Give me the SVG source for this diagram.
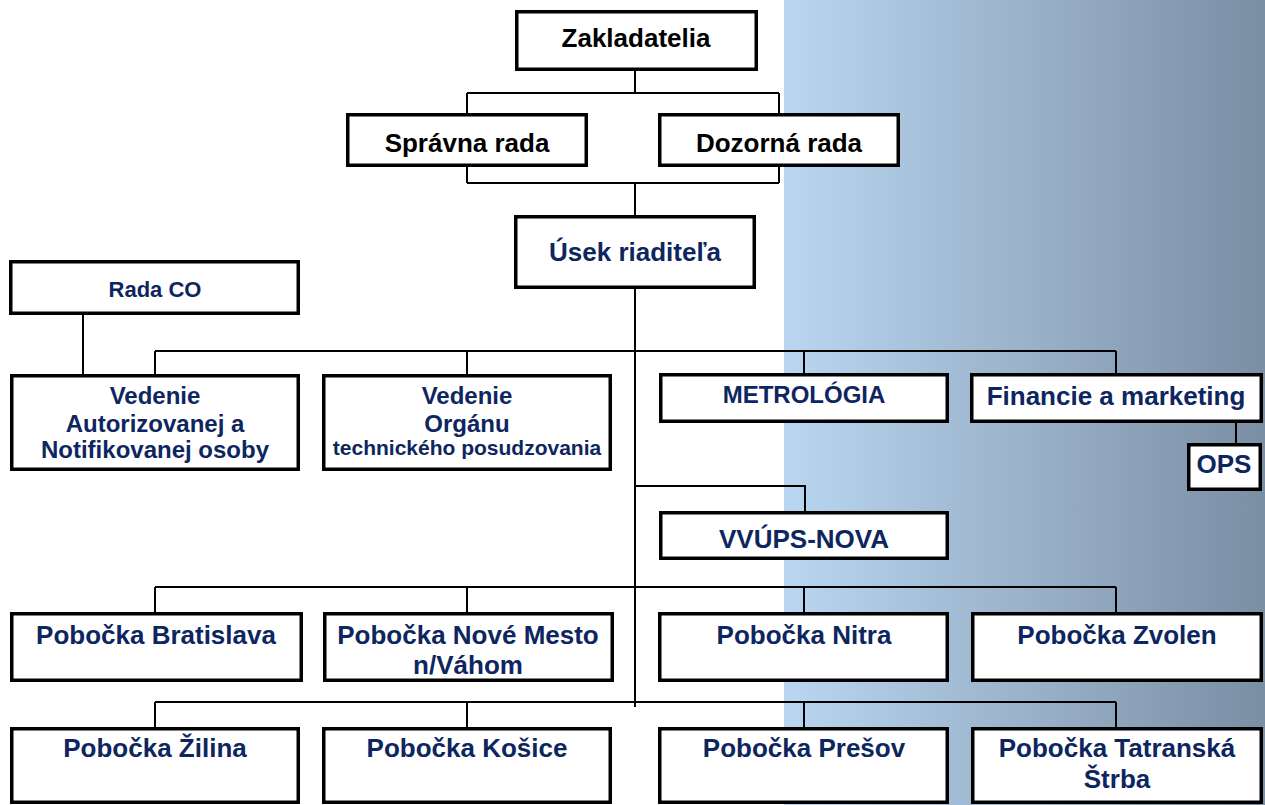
<svg xmlns="http://www.w3.org/2000/svg" width="1265" height="805" viewBox="0 0 1265 805">
<defs>
<linearGradient id="bg" x1="0" y1="0" x2="1" y2="0">
<stop offset="0" stop-color="#BAD6F0"/>
<stop offset="1" stop-color="#7A8EA4"/>
</linearGradient>
<style>
.box{fill:#fff;stroke:#000;stroke-width:3.5}
.t{font-family:"Liberation Sans",Arial,sans-serif;font-weight:bold;font-size:26px;text-anchor:middle;fill:#0E2660}
.k{fill:#000}
.s24{font-size:24px}
.s22{font-size:22px}
.s21{font-size:21px}
.c{fill:none;stroke:#000;stroke-width:2}
</style>
</defs>
<rect x="0" y="0" width="1265" height="805" fill="#fff"/>
<rect x="784" y="0" width="481" height="805" fill="url(#bg)"/>
<g id="connectors" class="c">
<path d="M635 71V93M467 93H779M467 93V113M779 93V113"/>
<path d="M467 167V183M779 167V183M467 183H779M635 183V215"/>
<path d="M635 289V707"/>
<path d="M83 315V374"/>
<path d="M155 351H1116M155 351V374M467 351V374M804 351V373M1116 351V373"/>
<path d="M1236 423V443"/>
<path d="M635 486H805V511"/>
<path d="M155 587H1116M155 587V612M467 587V612M804 587V612M1116 587V612"/>
<path d="M155 702H1116M155 702V727M467 702V727M804 702V727M1116 702V727"/>
</g>
<g id="zakladatelia"><rect class="box" x="516.75" y="11.75" width="239.5" height="57.5"/><text class="t k" x="636" y="47">Zakladatelia</text></g>
<g id="spravna-rada"><rect class="box" x="347.75" y="114.75" width="238.5" height="50.5"/><text class="t k" x="467" y="152">Správna rada</text></g>
<g id="dozorna-rada"><rect class="box" x="659.75" y="114.75" width="238.5" height="50.5"/><text class="t k" x="779" y="152">Dozorná rada</text></g>
<g id="usek-riaditela"><rect class="box" x="515.75" y="216.75" width="238.5" height="70.5"/><text class="t" x="635" y="261">Úsek riaditeľa</text></g>
<g id="rada-co"><rect class="box" x="10.75" y="261.75" width="287.5" height="51.5"/><text class="t s22" x="155" y="297">Rada CO</text></g>
<g id="vedenie-ano"><rect class="box" x="11.75" y="375.75" width="286.5" height="93.5"/><text class="t s24" x="155" y="404">Vedenie</text><text class="t s24" x="155" y="432">Autorizovanej a</text><text class="t s24" x="155" y="458">Notifikovanej osoby</text></g>
<g id="vedenie-otp"><rect class="box" x="323.75" y="375.75" width="286.5" height="93.5"/><text class="t s24" x="467" y="404">Vedenie</text><text class="t s24" x="467" y="432">Orgánu</text><text class="t s21" x="467" y="455">technického posudzovania</text></g>
<g id="metrologia"><rect class="box" x="660.75" y="374.75" width="286.5" height="46.5"/><text class="t s24" x="804" y="403">METROLÓGIA</text></g>
<g id="financie"><rect class="box" x="971.75" y="374.75" width="289.5" height="46.5"/><text class="t" x="1116" y="405">Financie a marketing</text></g>
<g id="ops"><rect class="box" x="1188.75" y="444.75" width="71.5" height="44.5"/><text class="t" x="1224" y="473">OPS</text></g>
<g id="vvups-nova"><rect class="box" x="660.75" y="512.75" width="286.5" height="45.5"/><text class="t" x="804" y="548">VVÚPS-NOVA</text></g>
<g id="bratislava"><rect class="box" x="11.75" y="613.75" width="289.5" height="66.5"/><text class="t" x="156" y="644">Pobočka Bratislava</text></g>
<g id="nove-mesto"><rect class="box" x="324.75" y="613.75" width="287.5" height="66.5"/><text class="t" x="468" y="644">Pobočka Nové Mesto</text><text class="t" x="468" y="674">n/Váhom</text></g>
<g id="nitra"><rect class="box" x="659.75" y="613.75" width="287.5" height="66.5"/><text class="t" x="804" y="644">Pobočka Nitra</text></g>
<g id="zvolen"><rect class="box" x="972.75" y="613.75" width="288.5" height="66.5"/><text class="t" x="1117" y="644">Pobočka Zvolen</text></g>
<g id="zilina"><rect class="box" x="11.75" y="728.75" width="286.5" height="73.5"/><text class="t" x="155" y="757">Pobočka Žilina</text></g>
<g id="kosice"><rect class="box" x="323.75" y="728.75" width="286.5" height="73.5"/><text class="t" x="467" y="757">Pobočka Košice</text></g>
<g id="presov"><rect class="box" x="659.75" y="728.75" width="287.5" height="73.5"/><text class="t" x="804" y="757">Pobočka Prešov</text></g>
<g id="tatranska-strba"><rect class="box" x="972.75" y="728.75" width="288.5" height="73.5"/><text class="t" x="1117" y="757">Pobočka Tatranská</text><text class="t" x="1117" y="788">Štrba</text></g>
</svg>
